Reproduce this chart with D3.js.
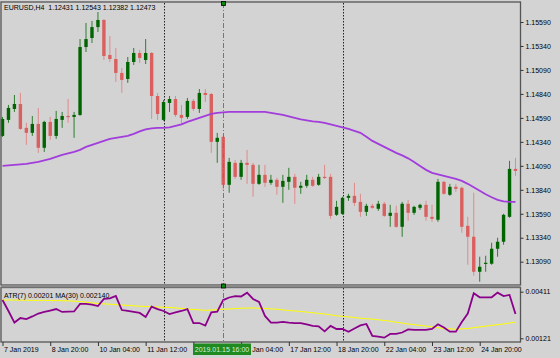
<!DOCTYPE html>
<html><head><meta charset="utf-8">
<script src="https://cdn.jsdelivr.net/npm/d3@7"></script>
<style>
html,body{margin:0;padding:0;background:#d3d3d3;}
svg{display:block;}
text{font-family:"Liberation Sans",Arial,sans-serif;font-size:7px;fill:#000;white-space:pre;}
</style>
</head><body>
<svg id="c" width="560" height="358"></svg>
<script>
const opens=[1.14402,1.14569,1.14683,1.14735,1.14486,1.14434,1.14527,1.14278,1.14548,1.14402,1.14569,1.14610,1.14600,1.14621,1.15329,1.15423,1.15537,1.15611,1.15246,1.15204,1.15059,1.14996,1.15173,1.15267,1.15194,1.15267,1.14818,1.14569,1.14746,1.14787,1.14621,1.14600,1.14767,1.14683,1.14850,1.14839,1.14340,1.14392,1.13892,1.14121,1.13975,1.14121,1.14100,1.13902,1.13996,1.13913,1.13944,1.13871,1.13923,1.13975,1.13861,1.13882,1.13944,1.13892,1.13975,1.13975,1.13579,1.13589,1.13756,1.13777,1.13714,1.13610,1.13673,1.13642,1.13694,1.13568,1.13600,1.13454,1.13694,1.13600,1.13652,1.13683,1.13558,1.13527,1.13923,1.13788,1.13871,1.13861,1.13464,1.13350,1.12985,1.13069,1.13069,1.13225,1.13298,1.13558,1.14058];
const highs=[1.14600,1.14725,1.14829,1.14850,1.14538,1.14610,1.14694,1.14559,1.14600,1.14663,1.14652,1.14787,1.14652,1.15412,1.15580,1.15601,1.15694,1.15621,1.15443,1.15319,1.15111,1.15225,1.15319,1.15298,1.15412,1.15277,1.14850,1.14777,1.14818,1.14818,1.14725,1.14798,1.14787,1.14891,1.14891,1.14850,1.14434,1.14413,1.14173,1.14152,1.14152,1.14256,1.14121,1.14100,1.14100,1.13996,1.13965,1.13996,1.14069,1.14006,1.13923,1.13996,1.13975,1.14006,1.14100,1.14006,1.13725,1.13767,1.13798,1.13913,1.13798,1.13694,1.13694,1.13725,1.13714,1.13683,1.13673,1.13714,1.13735,1.13673,1.13694,1.13725,1.13683,1.13954,1.13933,1.13902,1.13902,1.13871,1.13558,1.13809,1.13142,1.13152,1.13288,1.13340,1.13590,1.14142,1.14173];
const lows=[1.14392,1.14538,1.14652,1.14465,1.14309,1.14402,1.14225,1.14235,1.14361,1.14371,1.14486,1.14538,1.14382,1.14610,1.15277,1.15371,1.15485,1.15194,1.15173,1.14965,1.14850,1.14955,1.15142,1.15163,1.15152,1.14579,1.14569,1.14559,1.14652,1.14600,1.14527,1.14579,1.14663,1.14642,1.14756,1.14225,1.14121,1.13840,1.13809,1.13954,1.13944,1.13902,1.13767,1.13892,1.13871,1.13892,1.13788,1.13704,1.13840,1.13694,1.13798,1.13861,1.13871,1.13882,1.13954,1.13537,1.13568,1.13579,1.13725,1.13673,1.13558,1.13568,1.13642,1.13621,1.13558,1.13454,1.13444,1.13350,1.13517,1.13579,1.13631,1.13517,1.13506,1.13506,1.13788,1.13777,1.13819,1.13392,1.13058,1.12944,1.12881,1.12985,1.13058,1.13142,1.13267,1.13548,1.13985];
const closes=[1.14579,1.14694,1.14735,1.14475,1.14434,1.14527,1.14278,1.14548,1.14402,1.14579,1.14610,1.14600,1.14621,1.15329,1.15412,1.15537,1.15611,1.15235,1.15204,1.15059,1.14986,1.15173,1.15267,1.15215,1.15267,1.14818,1.14631,1.14756,1.14787,1.14621,1.14590,1.14767,1.14683,1.14850,1.14829,1.14340,1.14382,1.13892,1.14131,1.13975,1.14121,1.14100,1.13902,1.13996,1.13913,1.13944,1.13871,1.13933,1.13975,1.13861,1.13882,1.13944,1.13882,1.13975,1.13965,1.13568,1.13662,1.13756,1.13777,1.13704,1.13610,1.13673,1.13652,1.13694,1.13568,1.13600,1.13454,1.13694,1.13600,1.13662,1.13683,1.13558,1.13537,1.13923,1.13798,1.13871,1.13850,1.13454,1.13350,1.12985,1.13037,1.13079,1.13225,1.13298,1.13579,1.14058,1.14037];
const maValues=[1.14089,1.14095,1.14100,1.14105,1.14110,1.14121,1.14131,1.14147,1.14162,1.14183,1.14204,1.14220,1.14235,1.14256,1.14288,1.14309,1.14329,1.14350,1.14371,1.14382,1.14392,1.14402,1.14423,1.14449,1.14470,1.14480,1.14486,1.14486,1.14491,1.14506,1.14522,1.14548,1.14569,1.14590,1.14610,1.14631,1.14642,1.14647,1.14652,1.14652,1.14652,1.14652,1.14652,1.14652,1.14652,1.14642,1.14631,1.14621,1.14605,1.14590,1.14574,1.14564,1.14553,1.14548,1.14538,1.14522,1.14506,1.14491,1.14475,1.14454,1.14434,1.14392,1.14350,1.14319,1.14288,1.14256,1.14225,1.14199,1.14168,1.14131,1.14089,1.14048,1.14017,1.14001,1.13985,1.13970,1.13954,1.13933,1.13902,1.13866,1.13829,1.13793,1.13762,1.13735,1.13720,1.13715,1.13715];
const atrValues=[0.00359,0.00291,0.00219,0.00247,0.00241,0.00257,0.00275,0.00285,0.00294,0.00303,0.00285,0.00287,0.00288,0.00335,0.00335,0.00331,0.00322,0.00366,0.00369,0.00384,0.00297,0.00291,0.00285,0.00279,0.00254,0.00318,0.00303,0.00291,0.00272,0.00282,0.00291,0.00303,0.00216,0.00216,0.00200,0.00282,0.00287,0.00359,0.00375,0.00384,0.00381,0.00405,0.00366,0.00347,0.00260,0.00218,0.00218,0.00223,0.00218,0.00216,0.00216,0.00207,0.00198,0.00195,0.00164,0.00198,0.00179,0.00179,0.00162,0.00182,0.00201,0.00210,0.00136,0.00132,0.00125,0.00148,0.00148,0.00157,0.00176,0.00173,0.00173,0.00173,0.00179,0.00208,0.00188,0.00162,0.00162,0.00223,0.00275,0.00401,0.00376,0.00376,0.00376,0.00405,0.00384,0.00391,0.00272];
const atrMaValues=[0.00359,0.00359,0.00359,0.00358,0.00358,0.00357,0.00357,0.00357,0.00356,0.00356,0.00355,0.00354,0.00352,0.00350,0.00346,0.00341,0.00338,0.00335,0.00333,0.00331,0.00328,0.00326,0.00323,0.00321,0.00319,0.00317,0.00316,0.00314,0.00313,0.00310,0.00307,0.00303,0.00300,0.00298,0.00295,0.00297,0.00299,0.00302,0.00303,0.00306,0.00308,0.00309,0.00310,0.00308,0.00307,0.00304,0.00302,0.00298,0.00294,0.00291,0.00288,0.00284,0.00280,0.00276,0.00272,0.00267,0.00261,0.00258,0.00254,0.00250,0.00246,0.00243,0.00240,0.00236,0.00232,0.00227,0.00221,0.00216,0.00210,0.00206,0.00201,0.00197,0.00192,0.00187,0.00182,0.00180,0.00177,0.00180,0.00182,0.00187,0.00192,0.00197,0.00201,0.00206,0.00210,0.00216,0.00222];
const priceTicks=[1.15590,1.15340,1.15090,1.14840,1.14590,1.14340,1.14090,1.13840,1.13590,1.13340,1.13090];
const atrTicks=[0.00411,0.00121];
const timeTickIdx=[0,8,16,24,32,40,48,56,64,72,80];
// label of tick 32 is hidden under the crosshair label in the reference
const timeTickLabels=["7 Jan 2019","8 Jan 20:00","10 Jan 04:00","11 Jan 12:00","","16 Jan 04:00","17 Jan 12:00","18 Jan 20:00","22 Jan 04:00","23 Jan 12:00","24 Jan 20:00"];
const separatorIdx=[27,57];
const crossIdx=37;
const headerText="EURUSD,H4  1.12431 1.12543 1.12382 1.12473";
const atrHeader="ATR(7) 0.00201 MA(30) 0.002140";
const crossLabel="2019.01.15 16:00";

const svg=d3.select("#c");
const N=opens.length;
const x=d3.scaleLinear().domain([0,N-1]).range([2.5,515.5]);
const yP=d3.scaleLinear().domain([1.13090,1.15590]).range([261.7,22]);
const yA=d3.scaleLinear().domain([0.00121,0.00411]).range([338.3,291.7]);

svg.append("rect").attr("width",560).attr("height",358).attr("fill","#d3d3d3");

const GREEN="#006400", RED="#d9605f";
const bars=d3.range(N).map(i=>({i,o:opens[i],h:highs[i],l:lows[i],c:closes[i]}));

// week separators
const sep=svg.append("g");
separatorIdx.forEach(k=>{
  sep.append("line").attr("x1",Math.round(x(k))+0.5).attr("x2",Math.round(x(k))+0.5)
    .attr("y1",3).attr("y2",342).attr("stroke","#222").attr("stroke-width",1).attr("stroke-dasharray","1.5,1.5");
});

// candles
const cg=svg.append("g");
cg.selectAll("line.w").data(bars).join("line").attr("class","w")
  .attr("x1",d=>x(d.i)).attr("x2",d=>x(d.i))
  .attr("y1",d=>yP(d.h)).attr("y2",d=>yP(d.l))
  .attr("stroke",d=>d.c>=d.o?"#2f7d2f":"#e08a8a").attr("stroke-width",1);
cg.selectAll("rect.b").data(bars).join("rect").attr("class","b")
  .attr("x",d=>x(d.i)-1.7).attr("width",3.4)
  .attr("y",d=>yP(Math.max(d.o,d.c)))
  .attr("height",d=>Math.max(1.2,Math.abs(yP(d.o)-yP(d.c))))
  .attr("fill",d=>d.c>=d.o?GREEN:RED);

// MA line
svg.append("path").datum(maValues)
  .attr("d",d3.line().x((d,i)=>x(i)).y(d=>yP(d)))
  .attr("fill","none").attr("stroke","#a23ddc").attr("stroke-width",1.8);

// ATR panel lines
svg.append("path").datum(atrMaValues)
  .attr("d",d3.line().x((d,i)=>x(i)).y(d=>yA(d)))
  .attr("fill","none").attr("stroke","#ffff00").attr("stroke-width",1);
svg.append("path").datum(atrValues)
  .attr("d",d3.line().x((d,i)=>x(i)).y(d=>yA(d)))
  .attr("fill","none").attr("stroke","#8b008b").attr("stroke-width",1.8);

// crosshair
const cx=Math.round(x(crossIdx))+0.5;
svg.append("line").attr("x1",cx).attr("x2",cx).attr("y1",3).attr("y2",342)
  .attr("stroke","#3e9e3e").attr("stroke-width",1).attr("stroke-dasharray","5,2,1,2");

// frames
svg.append("rect").attr("x",1).attr("y",2).attr("width",519.5).attr("height",283)
  .attr("fill","none").attr("stroke","#555").attr("stroke-width",1.3);
svg.append("rect").attr("x",1).attr("y",287.5).attr("width",519.5).attr("height",54.5)
  .attr("fill","none").attr("stroke","#555").attr("stroke-width",1.3);
svg.append("rect").attr("x",1).attr("y",285).attr("width",519.5).attr("height",2.5).attr("fill","#8a8a8a");

// price axis
const pa=svg.append("g").attr("transform","translate(520.5,0)")
  .call(d3.axisRight(yP).tickValues(priceTicks).tickFormat(d3.format(".5f")).tickSize(3).tickPadding(2));
pa.select(".domain").remove();
pa.selectAll("line").attr("stroke","#333");
pa.selectAll("text").attr("font-size",7).attr("font-family","Liberation Sans").attr("fill","#000");

const aa=svg.append("g").attr("transform","translate(520.5,0)")
  .call(d3.axisRight(yA).tickValues(atrTicks).tickFormat(d3.format(".5f")).tickSize(3).tickPadding(2));
aa.select(".domain").remove();
aa.selectAll("line").attr("stroke","#333");
aa.selectAll("text").attr("font-size",7).attr("font-family","Liberation Sans").attr("fill","#000");

// time axis
const ta=svg.append("g").attr("transform","translate(0,342)")
  .call(d3.axisBottom(x).tickValues(timeTickIdx).tickFormat((d,i)=>timeTickLabels[i]).tickSize(4));
ta.select(".domain").remove();
ta.selectAll("line").attr("stroke","#333");
ta.selectAll("text").attr("text-anchor","start").attr("x",1).attr("y",5).attr("dy","0.71em")
  .attr("font-size",7).attr("font-family","Liberation Sans").attr("fill","#000");
ta.selectAll("text").filter(function(){return this.textContent==="";}).remove();

// crosshair label
svg.append("rect").attr("x",cx-30.5).attr("y",343.5).attr("width",58).attr("height",11.5).attr("fill","#1f8a1f");
svg.append("text").attr("x",cx-1.5).attr("y",352).attr("text-anchor","middle").style("fill","#d8f0d8").text(crossLabel);

// crosshair markers
[1.5,284].forEach(yy=>{
  svg.append("rect").attr("x",cx-2).attr("y",yy).attr("width",4).attr("height",4)
    .attr("fill","#0a8a0a").attr("stroke","#000").attr("stroke-width",0.8);
});

// headers
svg.append("text").attr("x",4).attr("y",9.5).text(headerText);
svg.append("text").attr("x",4).attr("y",297.5).text(atrHeader);
</script>
</body></html>
